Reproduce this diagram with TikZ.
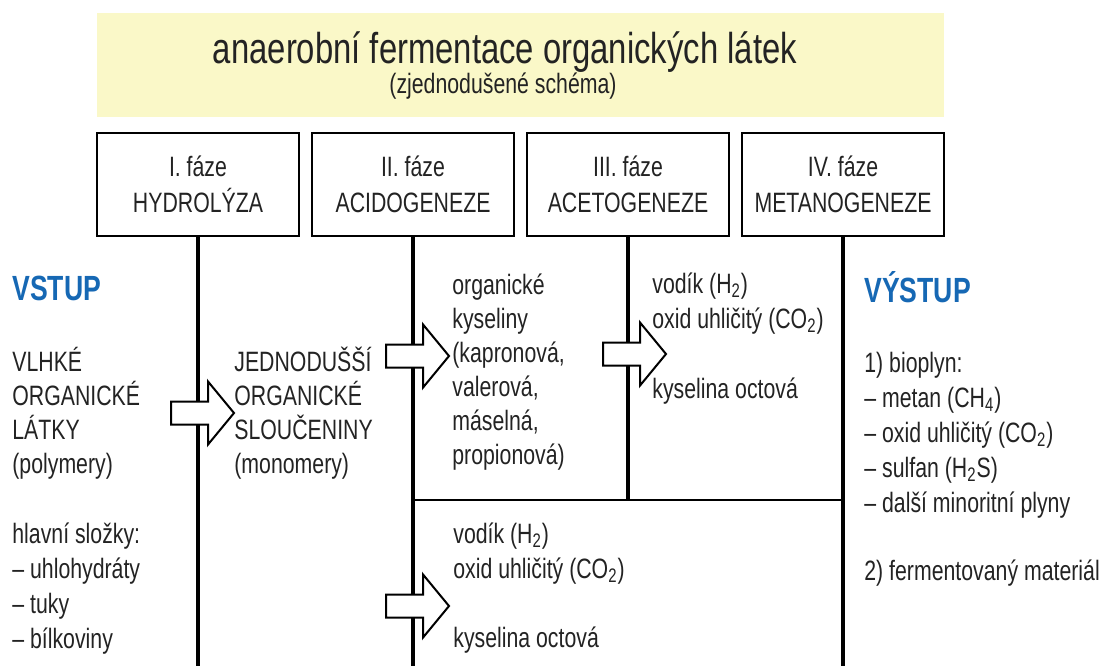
\documentclass[tikz,border=0pt]{standalone}
\usepackage{fontspec}
\setmainfont{Liberation Sans}[FakeStretch=0.76]
\usetikzlibrary{shapes.arrows}
\definecolor{bannerfill}{RGB}{250,248,200}
\definecolor{headblue}{RGB}{22,104,180}
\definecolor{inktext}{RGB}{35,35,35}
\tikzset{
  txt/.style={anchor=base west,inner sep=0pt,align=left,text=inktext,font=\fontsize{14}{17}\selectfont},
  phasebox/.style={draw,line width=1pt,fill=white,minimum width=101pt,minimum height=51.5pt,align=center,text=inktext,font=\fontsize{14}{18}\selectfont},
  stem/.style={line width=2pt},
  flowarrow/.style={single arrow,draw,line width=1pt,fill=white,anchor=tail,inner xsep=0pt,inner ysep=5.25pt,minimum height=31.5pt,single arrow head extend=10pt,single arrow tip angle=101},
  sidehead/.style={anchor=base west,inner sep=0pt,text=headblue,font=\fontsize{17.5}{20}\selectfont\bfseries}
}
\begin{document}
\begin{tikzpicture}[x=0.5pt,y=-0.5pt]
	\useasboundingbox (0,0) rectangle (1107,666);
	\fill[bannerfill] (97,13) rectangle (944,117);
	\node[anchor=base,inner sep=0pt,text=inktext,font=\fontsize{21.6}{24}\selectfont] (title) at (505,63) {anaerobní fermentace organických látek};
	\node[anchor=base,inner sep=0pt,text=inktext,font=\fontsize{14}{17}\selectfont] (subtitle) at (503,93) {(zjednodušené schéma)};
	\foreach \i/\num/\name in {1/I./HYDROLÝZA,2/II./ACIDOGENEZE,3/III./ACETOGENEZE,4/IV./METANOGENEZE}
		\node[phasebox] (phase\i) at (198+215*\i-215,184.5) {\num\ fáze\\\name};
	\coordinate (floor) at (0,666);
	\coordinate (split) at (0,500);
	\foreach \i in {1,2,4} \draw[stem] (phase\i.south) -- (phase\i.south |- floor);
	\draw[stem] (phase3.south) -- (phase3.south |- split);
	\draw[line width=1pt] (phase2.south |- split) -- (phase4.south |- split);
	\node[flowarrow] (arrow1) at (170,413) {};
	\node[flowarrow] (arrow2) at (385,356) {};
	\node[flowarrow] (arrow3) at (602,354) {};
	\node[flowarrow] (arrow4) at (385,606) {};
	\node[sidehead] (vstup) at (12,300) {VSTUP};
	\node[sidehead] (vystup) at (864,302) {VÝSTUP};
	\node[txt] (polymers) at (12,473) {VLHKÉ\\ORGANICKÉ\\LÁTKY\\(polymery)};
	\node[txt,font=\fontsize{14}{17.5}\selectfont] (components) at (12,648) {hlavní složky:\\– uhlohydráty\\– tuky\\– bílkoviny};
	\node[txt] (monomers) at (234,473) {JEDNODUŠŠÍ\\ORGANICKÉ\\SLOUČENINY\\(monomery)};
	\node[txt] (acids) at (452,464) {organické\\kyseliny\\(kapronová,\\valerová,\\máselná,\\propionová)};
	\node[txt,font=\fontsize{14}{17.5}\selectfont] (gases3) at (652,328) {vodík (H\textsubscript{2})\\oxid uhličitý (CO\textsubscript{2})};
	\node[txt] (acetic3) at (652,398) {kyselina octová};
	\node[txt,font=\fontsize{14}{17.5}\selectfont] (gases2) at (453,578) {vodík (H\textsubscript{2})\\oxid uhličitý (CO\textsubscript{2})};
	\node[txt] (acetic2) at (453,647) {kyselina octová};
	\node[txt,font=\fontsize{14}{17.4}\selectfont] (biogas) at (864,512) {1) bioplyn:\\– metan (CH\textsubscript{4})\\– oxid uhličitý (CO\textsubscript{2})\\– sulfan (H\textsubscript{2}S)\\– další minoritní plyny};
	\node[txt] (material) at (864,580) {2) fermentovaný materiál};
\end{tikzpicture}
\end{document}
